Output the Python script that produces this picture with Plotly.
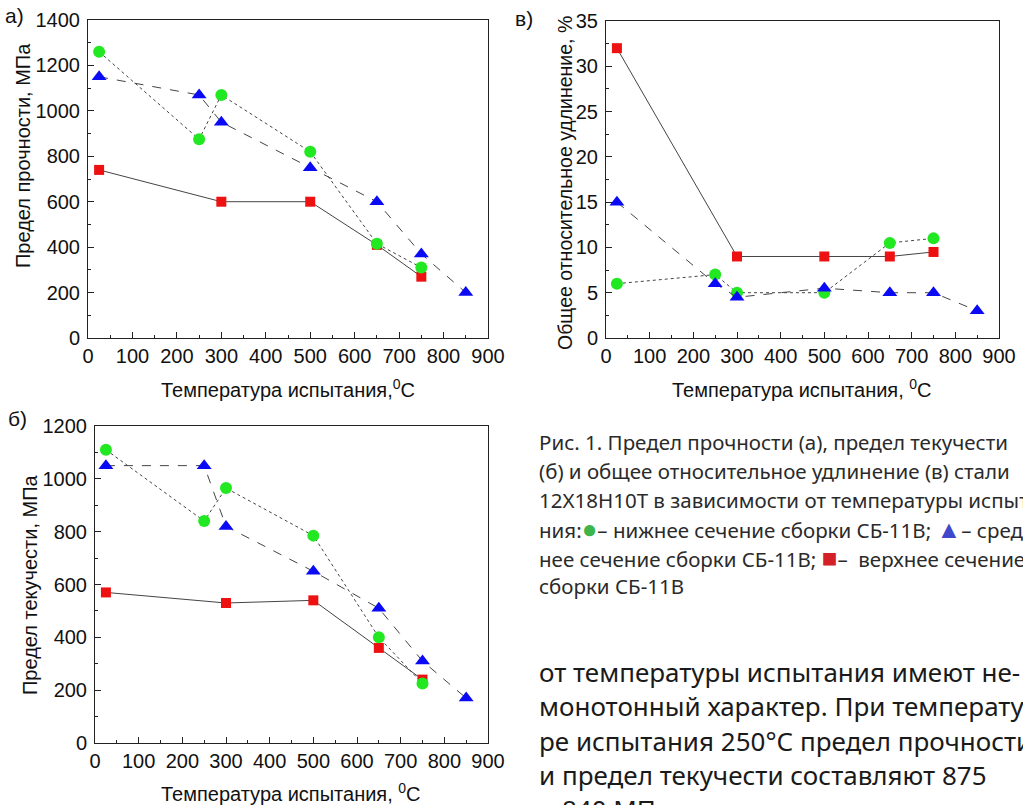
import plotly.graph_objects as go

W, H = 1023, 805

# ---------------- data ----------------
# (а) Предел прочности, МПа
a_temp_green = [25, 250, 300, 500, 650, 750]
a_val_green = [1260, 875, 1070, 820, 415, 310]
a_temp_blue = [25, 250, 300, 500, 650, 750, 850]
a_val_blue = [1150, 1070, 950, 750, 600, 370, 200]
a_temp_red = [25, 300, 500, 650, 750]
a_val_red = [740, 600, 600, 410, 270]

# (б) Предел текучести, МПа
b_temp_green = [25, 250, 300, 500, 650, 750]
b_val_green = [1110, 840, 965, 785, 400, 225]
b_temp_blue = [25, 250, 300, 500, 650, 750, 850]
b_val_blue = [1050, 1050, 820, 650, 510, 310, 170]
b_temp_red = [25, 300, 500, 650, 750]
b_val_red = [570, 530, 540, 360, 240]

# (в) Общее относительное удлинение, %
v_temp_green = [25, 250, 300, 500, 650, 750]
v_val_green = [6, 7, 5, 5, 10.5, 11]
v_temp_blue = [25, 250, 300, 500, 650, 750, 850]
v_val_blue = [15, 6, 4.5, 5.5, 5, 5, 3]
v_temp_red = [25, 300, 500, 650, 750]
v_val_red = [32, 9, 9, 9, 9.5]

x_ticks = [0, 100, 200, 300, 400, 500, 600, 700, 800, 900]

caption_lines = [
    "Рис. 1. Предел прочности (а), предел текучести",
    "(б) и общее относительное удлинение (в) стали",
    "12Х18Н10Т в зависимости от температуры испыта-",
    "ния:<span style='color:#3db54a;font-size:26px'>●</span>– нижнее сечение сборки СБ-11В; "
    "<span style='color:#3f48cc;font-size:25px'>▲</span>– сред-",
    "нее сечение сборки СБ-11В; <span style='color:#d42027;font-size:26px'>■</span>–  верхнее сечение",
    "сборки СБ-11В",
]
body_lines = [
    "от температуры испытания имеют не-",
    "монотонный характер. При температу-",
    "ре испытания 250°С предел прочности",
    "и предел текучести составляют 875",
    "и 840 МПа соответственно, а при температуре",
]

# ---------------- styling ----------------
GREEN = "#22e822"
BLUE = "#0a0af5"
RED = "#ee1111"
LINE = "#444444"
SANS = "Liberation Sans, Arial, sans-serif"
AX_FONT = dict(family=SANS, size=20, color="#111")


def px(x):
    return x / W


def py(y):
    return 1 - y / H


fig = go.Figure()


def add_series(xs, ys, color, symbol, size, dash, xa, ya):
    fig.add_trace(go.Scatter(
        x=xs, y=ys, mode="lines+markers", xaxis=xa, yaxis=ya,
        line=dict(color=LINE, width=1, dash=dash),
        marker=dict(color=color, symbol=symbol, size=size, line=dict(width=0)),
        showlegend=False, hoverinfo="x+y"))


for (xa, ya, data) in [
    ("x", "y", [(a_temp_red, a_val_red), (a_temp_green, a_val_green), (a_temp_blue, a_val_blue)]),
    ("x2", "y2", [(v_temp_red, v_val_red), (v_temp_green, v_val_green), (v_temp_blue, v_val_blue)]),
    ("x3", "y3", [(b_temp_red, b_val_red), (b_temp_green, b_val_green), (b_temp_blue, b_val_blue)]),
]:
    (rx, ry), (gx, gy), (bx, by) = data
    add_series(rx, ry, RED, "square", 10, "solid", xa, ya)
    add_series(gx, gy, GREEN, "circle", 12, "dot", xa, ya)
    add_series(bx, by, BLUE, "triangle-up", 13, "dash", xa, ya)


def xaxis(domain, anchor):
    return dict(domain=domain, anchor=anchor, range=[0, 900], tickvals=x_ticks,
                showgrid=False, zeroline=False, showline=True, linecolor="#222",
                linewidth=1, mirror=True, ticks="inside", ticklen=6, tickcolor="#222",
                minor=dict(ticks="inside", ticklen=3, dtick=50, tickcolor="#222", showgrid=False),
                tickfont=AX_FONT, fixedrange=True, automargin=False)


def yaxis(domain, anchor, rng, dtick, mdtick):
    return dict(domain=domain, anchor=anchor, range=rng, dtick=dtick, tick0=0,
                showgrid=False, zeroline=False, showline=True, linecolor="#222",
                linewidth=1, mirror=True, ticks="inside", ticklen=6, tickcolor="#222",
                minor=dict(ticks="inside", ticklen=3, dtick=mdtick, tickcolor="#222", showgrid=False),
                tickfont=AX_FONT, fixedrange=True, automargin=False, ticklabelstandoff=3)


fig.update_layout(
    width=W, height=H,
    margin=dict(l=0, r=0, t=0, b=0, pad=0),
    paper_bgcolor="white", plot_bgcolor="white",
    xaxis=xaxis([px(88), px(488)], "y"),
    yaxis=yaxis([py(338), py(20)], "x", [0, 1400], 200, 100),
    xaxis2=xaxis([px(606), px(999)], "y2"),
    yaxis2=yaxis([py(338), py(21)], "x2", [0, 35], 5, 2.5),
    xaxis3=xaxis([px(95), px(488)], "y3"),
    yaxis3=yaxis([py(743), py(426)], "x3", [0, 1200], 200, 100),
)

ann = []


def text(x, y, s, size=18, family=SANS, angle=0, xanchor="center", color="#111"):
    ann.append(dict(x=px(x), y=py(y), xref="paper", yref="paper", text=s, showarrow=False,
                    xanchor=xanchor, yanchor="middle", textangle=angle,
                    font=dict(family=family, size=size, color=color)))


# panel labels
text(14, 15, "а)", size=21)
text(524, 18, "в)", size=21)
text(17, 419, "б)", size=21)

# axis titles
text(288, 388, "Температура испытания,<sup>0</sup>C", size=20)
text(802, 388, "Температура испытания, <sup>0</sup>C", size=20)
text(291, 792, "Температура испытания, <sup>0</sup>C", size=20)
text(23, 156, "Предел прочности, МПа", size=20, angle=-90)
text(565, 183, "Общее относительное удлинение, %", size=19.5, angle=-90)
text(30, 585, "Предел текучести, МПа", size=20, angle=-90)

# caption
cap_y0, cap_dy = 442, 28.8
for i, line in enumerate(caption_lines):
    text(537, cap_y0 + i * cap_dy, line, size=20.5, family="Noto Sans, Open Sans, sans-serif",
         xanchor="left", color="#2a2a2a")

# body text
body_y0, body_dy = 672, 34.3
for i, line in enumerate(body_lines):
    text(537, body_y0 + i * body_dy, line, size=26, family="Noto Sans, Open Sans, sans-serif",
         xanchor="left", color="#1a1a1a")

fig.update_layout(annotations=ann)
fig.write_html(
    "out.html",
    config={"displayModeBar": False},
    post_script="document.body.style.margin='0';document.body.style.overflow='hidden';",
)
